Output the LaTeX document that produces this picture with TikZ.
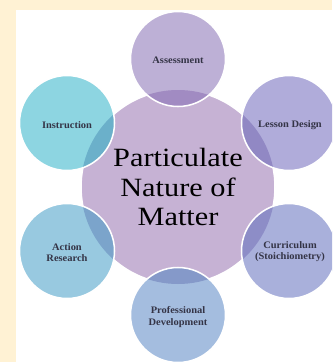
\documentclass[tikz,border=0pt]{standalone}
\usepackage{fontspec}
\setmainfont{Liberation Serif}
\newfontfamily\hubfont[FakeStretch=1.15]{Liberation Serif}
\newfontfamily\bubblefont[FakeStretch=1.05]{Liberation Serif}
\usetikzlibrary{positioning}
\definecolor{cream}{HTML}{FFF2D4}
\definecolor{hubcol}{HTML}{C6B2D4}
\definecolor{assesscol}{HTML}{BDB0D6}
\definecolor{lessoncol}{HTML}{B0ACDA}
\definecolor{currcol}{HTML}{A9B0DB}
\definecolor{profcol}{HTML}{A4BDDF}
\definecolor{actioncol}{HTML}{98C9E0}
\definecolor{instrcol}{HTML}{8DD5E1}
\definecolor{assessov}{HTML}{A18BC2}
\definecolor{lessonov}{HTML}{9188C4}
\definecolor{currov}{HTML}{8D8DC7}
\definecolor{profov}{HTML}{8599C9}
\definecolor{actionov}{HTML}{7BA4CB}
\definecolor{instrov}{HTML}{6BB0CA}
\definecolor{labelcol}{HTML}{343446}
\tikzset{
  ring/.style={draw=white, line width=1.3pt},
  bubbletext/.style={font=\bubblefont\fontsize{8.5}{9.5}\selectfont\bfseries, text=labelcol, align=center},
  hubtext/.style={font=\hubfont\fontsize{22.5}{25}\selectfont, text=black, align=center}
}
% one outer circle: centre, fill colour, overlap colour
\def\bubble(#1)#2#3{%
  \fill[#2] (#1) circle (47.5);
  \begin{scope}
    \clip (178,187) circle (97);
    \fill[#3] (#1) circle (47.5);
  \end{scope}
  \draw[ring] (#1) circle (47.5);}

\begin{document}
\begin{tikzpicture}[x=0.03cm, y=-0.03cm]
  %%%%% FRAME %%%%%
  \useasboundingbox (0,0) rectangle (332,362);
  \clip (0,0) rectangle (332,362);
  \fill[cream] (0,0) rectangle (332,362);
  \fill[white] (16,10) rectangle (332,362);

  %%%%% HUB %%%%%
  \draw[ring, fill=hubcol] (178,187) circle (97);

  %%%%% OUTER CIRCLES %%%%%
  \bubble(178,59){assesscol}{assessov}
  \bubble(289,123){lessoncol}{lessonov}
  \bubble(289,251){currcol}{currov}
  \bubble(178,315){profcol}{profov}
  \bubble(67,251){actioncol}{actionov}
  \bubble(67,123){instrcol}{instrov}

  %%%%% LABELS %%%%%
  \node[hubtext] (matter) at (178,187) {Particulate\\Nature of\\Matter};
  \node[bubbletext] (assess) at (178,60) {Assessment};
  \node[bubbletext] (lesson) at (290,125) {Lesson Design};
  \node[bubbletext] (curr) at (290,252) {Curriculum\\(Stoichiometry)};
  \node[bubbletext] (prof) at (178,317) {Professional\\Development};
  \node[bubbletext] (action) at (67,253) {Action\\Research};
  \node[bubbletext] (instr) at (67,125) {Instruction};
\end{tikzpicture}
\end{document}
